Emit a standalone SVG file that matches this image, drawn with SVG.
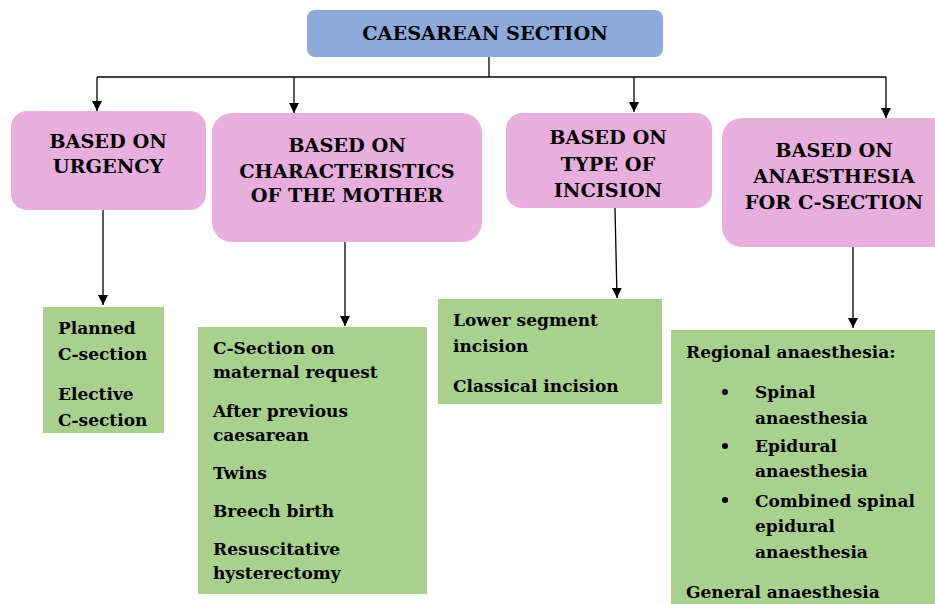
<svg xmlns="http://www.w3.org/2000/svg" width="935" height="604" viewBox="0 0 935 604">
<defs>
<marker id="ah" viewBox="0 0 10 10" refX="10" refY="5" markerWidth="10" markerHeight="10" markerUnits="userSpaceOnUse" orient="auto">
<path d="M0,0 L10,5 L0,10 z" fill="#000"/>
</marker>
</defs>
<style>
text{font-family:'DejaVu Serif',serif;font-weight:700;fill:#000;font-size:17px}
.h{text-anchor:middle;font-size:19.3px}
.pink{fill:#E8AEDE}
.green{fill:#A9D18E}
.line{stroke:#000;stroke-width:1.3;fill:none}
</style>
<g id="connectors">
<path class="line" d="M489,57 V77"/>
<path class="line" d="M97,77 H886"/>
<path class="line" d="M97,77 V111" marker-end="url(#ah)"/>
<path class="line" d="M294,77 V113" marker-end="url(#ah)"/>
<path class="line" d="M634,77 V112" marker-end="url(#ah)"/>
<path class="line" d="M886,77 V118" marker-end="url(#ah)"/>
<path class="line" d="M103,210 V305" marker-end="url(#ah)"/>
<path class="line" d="M345,242 V326" marker-end="url(#ah)"/>
<path class="line" d="M615,208 L617,298" marker-end="url(#ah)"/>
<path class="line" d="M853,247 V328" marker-end="url(#ah)"/>
</g>
<g id="root">
<rect x="307" y="10" width="356" height="47" rx="8" fill="#8EAADC"/>
<text class="h" x="485" y="40">CAESAREAN SECTION</text>
</g>
<g id="urgency">
<rect class="pink" x="11" y="111" width="195" height="99" rx="16"/>
<text class="h" x="108" y="148">BASED ON</text>
<text class="h" x="108" y="173">URGENCY</text>
</g>
<g id="mother">
<rect class="pink" x="212" y="113" width="270" height="129" rx="20"/>
<text class="h" x="347" y="152">BASED ON</text>
<text class="h" x="347" y="178">CHARACTERISTICS</text>
<text class="h" x="347" y="202">OF THE MOTHER</text>
</g>
<g id="incision">
<rect class="pink" x="506" y="113" width="206" height="95" rx="16"/>
<text class="h" x="608" y="144">BASED ON</text>
<text class="h" x="608" y="171">TYPE OF</text>
<text class="h" x="608" y="197">INCISION</text>
</g>
<g id="anaesthesia">
<rect class="pink" x="722" y="118" width="230" height="129" rx="20"/>
<text class="h" x="834" y="157">BASED ON</text>
<text class="h" x="834" y="183">ANAESTHESIA</text>
<text class="h" x="834" y="209">FOR C-SECTION</text>
</g>
<g id="urgency-list">
<rect class="green" x="43" y="307" width="121" height="126"/>
<text x="58" y="334">Planned</text>
<text x="58" y="360">C-section</text>
<text x="58" y="400">Elective</text>
<text x="58" y="426">C-section</text>
</g>
<g id="mother-list">
<rect class="green" x="198" y="327" width="229" height="267"/>
<text x="213" y="354">C-Section on</text>
<text x="213" y="378">maternal request</text>
<text x="213" y="417">After previous</text>
<text x="213" y="441">caesarean</text>
<text x="213" y="479">Twins</text>
<text x="213" y="517">Breech birth</text>
<text x="213" y="555">Resuscitative</text>
<text x="213" y="579">hysterectomy</text>
</g>
<g id="incision-list">
<rect class="green" x="438" y="299" width="224" height="105"/>
<text x="453" y="326">Lower segment</text>
<text x="453" y="352">incision</text>
<text x="453" y="392">Classical incision</text>
</g>
<g id="anaesthesia-list">
<rect class="green" x="671" y="330" width="270" height="280"/>
<text x="686" y="358">Regional anaesthesia:</text>
<circle cx="725" cy="392" r="3"/>
<text x="755" y="398">Spinal</text>
<text x="755" y="424">anaesthesia</text>
<circle cx="725" cy="446" r="3"/>
<text x="755" y="452">Epidural</text>
<text x="755" y="477">anaesthesia</text>
<circle cx="725" cy="500" r="3"/>
<text x="755" y="507">Combined spinal</text>
<text x="755" y="532">epidural</text>
<text x="755" y="558">anaesthesia</text>
<text x="686" y="598">General anaesthesia</text>
</g>
</svg>
